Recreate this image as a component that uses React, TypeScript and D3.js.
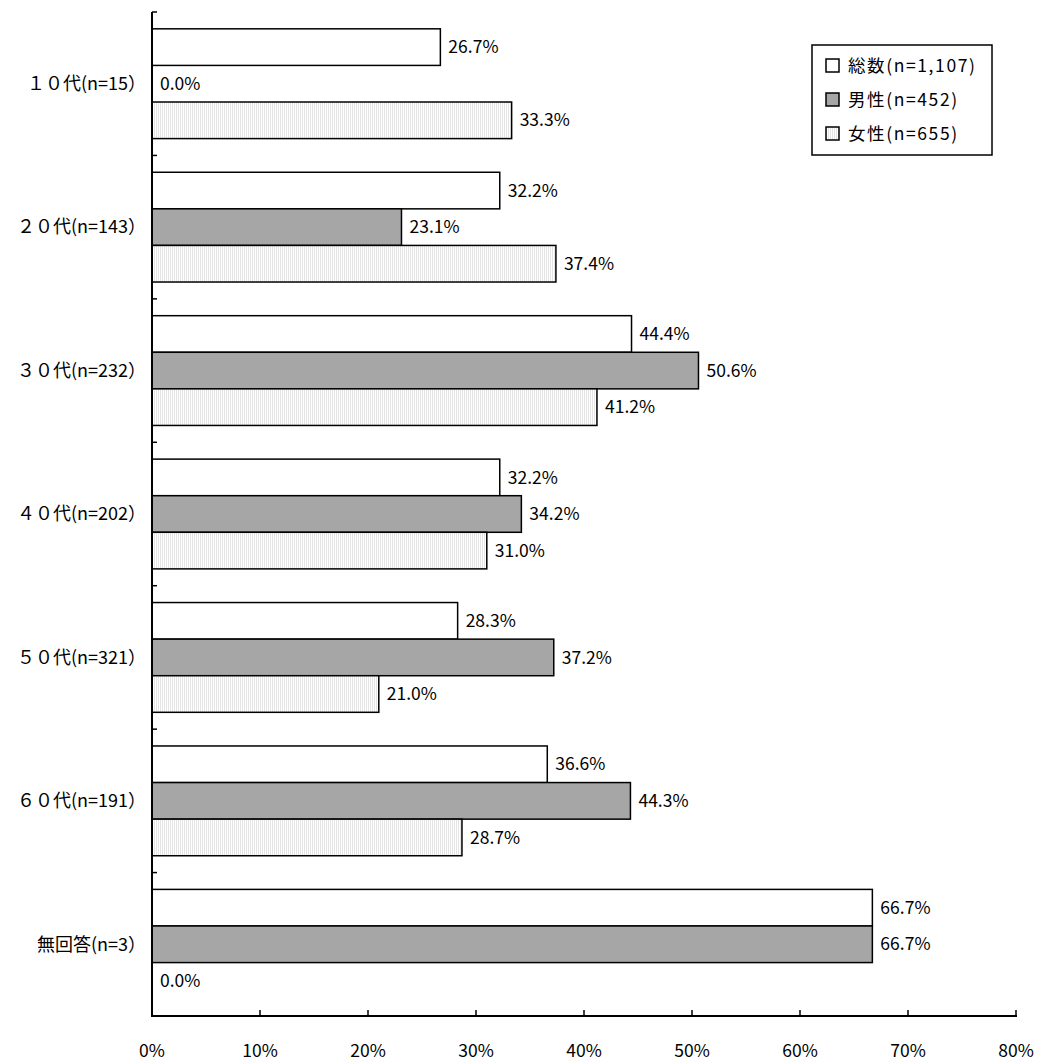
import React from "react";
import * as d3 from "d3";

const categories = ["１０代(n=15）", "２０代(n=143）", "３０代(n=232）", "４０代(n=202）", "５０代(n=321）", "６０代(n=191）", "無回答(n=3）"];
const seriesNames = ["総数(n=1,107)", "男性(n=452)", "女性(n=655)"];
const totalValues = [26.7, 32.2, 44.4, 32.2, 28.3, 36.6, 66.7];
const maleValues = [0.0, 23.1, 50.6, 34.2, 37.2, 44.3, 66.7];
const femaleValues = [33.3, 37.4, 41.2, 31.0, 21.0, 28.7, 0.0];
const xTicks = [0, 10, 20, 30, 40, 50, 60, 70, 80];

const W = 1037;
const H = 1063;
const FONT = "'Noto Sans CJK JP', 'Noto Sans', sans-serif";

export default function App() {
  const x = d3.scaleLinear().domain([0, 80]).range([152, 1016]);
  const y0 = d3.scaleBand<string>().domain(categories).range([12, 1016]).padding(0);
  const y1 = d3.scaleBand<string>().domain(["total", "male", "female"]).range([0, y0.bandwidth()]).paddingInner(0).paddingOuter(0.46);
  const series = [
    { key: "total", values: totalValues, fill: "#ffffff" },
    { key: "male", values: maleValues, fill: "#a6a6a6" },
    { key: "female", values: femaleValues, fill: "url(#femalePat)" },
  ];
  const boundaries = categories.map((c) => y0(c) as number);
  const legendFills = ["#ffffff", "#a6a6a6", "url(#femalePat)"];
  return (
    <svg width={W} height={H} style={{ position: "absolute", left: 0, top: 0, background: "#fff" }} fontFamily={FONT}>
      <defs>
        <pattern id="femalePat" width={2} height={2} patternUnits="userSpaceOnUse">
          <rect width={2} height={2} fill="#ffffff" />
          <rect width={1} height={2} fill="#e4e4e4" />
        </pattern>
      </defs>
      {categories.map((c, i) => (
        <g key={c} transform={`translate(0,${y0(c)})`}>
          {series.map((s) => {
            const v = s.values[i];
            const by = y1(s.key) as number;
            const bh = y1.bandwidth();
            return (
              <g key={s.key}>
                {v > 0 && (
                  <rect x={x(0)} y={by} width={x(v) - x(0)} height={bh} fill={s.fill} stroke="#000" strokeWidth={1.5} />
                )}
                <text x={x(v) + 8} y={by + bh / 2} dy="0.35em" fontSize={17.5} fill="#000">
                  {v.toFixed(1)}%
                </text>
              </g>
            );
          })}
          <text x={146} y={y0.bandwidth() / 2} dy="0.35em" textAnchor="end" fontSize={18} fill="#000">
            {c}
          </text>
        </g>
      ))}
      <line x1={152} x2={152} y1={12} y2={1016} stroke="#000" strokeWidth={2} />
      {boundaries.map((b, i) => (
        <line key={i} x1={152} x2={157} y1={b} y2={b} stroke="#000" strokeWidth={1.5} />
      ))}
      <line x1={151} x2={1017} y1={1016} y2={1016} stroke="#000" strokeWidth={2} />
      {xTicks.map((t) => (
        <g key={t}>
          <line x1={x(t)} x2={x(t)} y1={1016} y2={1010} stroke="#000" strokeWidth={1.5} />
          <text x={x(t)} y={1051} dy="0.35em" textAnchor="middle" fontSize={17.5} fill="#000">
            {t}%
          </text>
        </g>
      ))}
      <rect x={812} y={45} width={180} height={110} fill="#fff" stroke="#000" strokeWidth={1.5} />
      {seriesNames.map((n, i) => (
        <g key={n} transform={`translate(0,${66 + i * 34})`}>
          <rect x={826} y={-7} width={13} height={13} fill={legendFills[i]} stroke="#000" strokeWidth={1.5} />
          <text x={848} y={0} dy="0.35em" fontSize={17.5} letterSpacing={1.6} fill="#000">
            {n}
          </text>
        </g>
      ))}
    </svg>
  );
}
